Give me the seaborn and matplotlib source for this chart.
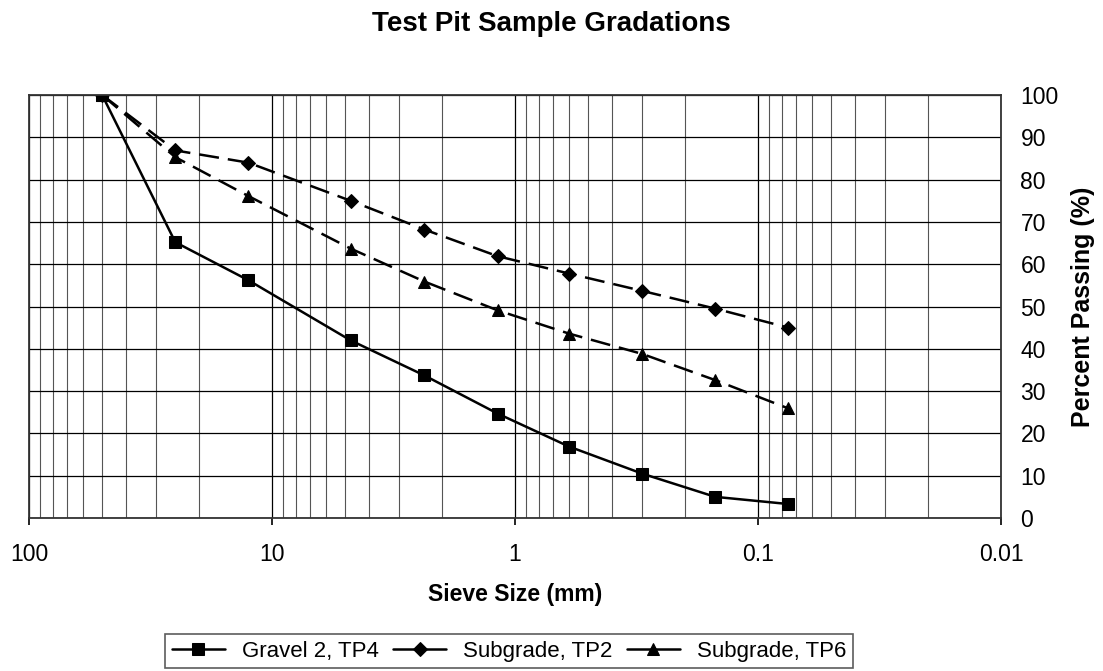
import numpy as np
import pandas as pd
import seaborn as sns
import matplotlib.pyplot as plt
from matplotlib.ticker import LogLocator, FixedLocator, NullFormatter

# sieve openings (mm) and percent passing for each test pit sample
sieve_mm = [50, 25, 12.5, 4.75, 2.36, 1.18, 0.6, 0.3, 0.15, 0.075]
gravel_tp4 = [100, 65.2, 56.2, 42.0, 33.7, 24.7, 16.9, 10.5, 5.0, 3.3]
subgrade_tp2 = [100, 86.9, 84.0, 75.0, 68.2, 61.9, 57.8, 53.7, 49.5, 45.0]
subgrade_tp6 = [100, 85.3, 76.1, 63.7, 55.9, 49.1, 43.6, 38.8, 32.6, 25.9]

series_names = ["Gravel 2, TP4", "Subgrade, TP2", "Subgrade, TP6"]
x_ticks = [100, 10, 1, 0.1, 0.01]
x_tick_labels = ["100", "10", "1", "0.1", "0.01"]

sns.set_theme(style="white")
plt.rcParams['font.family'] = ['Liberation Sans', 'DejaVu Sans']
plt.rcParams.update({"text.color": "black", "axes.labelcolor": "black",
                     "xtick.color": "black", "ytick.color": "black"})

fig = plt.figure(figsize=(11.03, 6.71), dpi=100)
ax = fig.add_axes([29 / 1103, 1 - 518 / 671, 972 / 1103, 423 / 671])

styles = [
    dict(marker="s", markersize=8, dashes=None),
    dict(marker="D", markersize=7.3, dashes=(8, 3.6)),
    dict(marker="^", markersize=8.5, dashes=(8, 3.6)),
]
for name, vals, st in zip(series_names, [gravel_tp4, subgrade_tp2, subgrade_tp6], styles):
    df = pd.DataFrame({"sieve": sieve_mm, "passing": vals})
    sns.lineplot(data=df, x="sieve", y="passing", ax=ax, color="black",
                 marker=st["marker"], markersize=st["markersize"],
                 markeredgecolor="black", linewidth=1.8, label=name,
                 sort=False, legend=False)
    if st["dashes"]:
        ax.lines[-1].set_dashes(st["dashes"])

ax.set_xscale("log")
ax.set_xlim(100, 0.01)
ax.set_ylim(0, 100)

ax.xaxis.set_major_locator(FixedLocator(x_ticks))
ax.set_xticklabels(x_tick_labels)
ax.xaxis.set_minor_locator(LogLocator(base=10, subs=np.arange(2, 10)))
ax.xaxis.set_minor_formatter(NullFormatter())
ax.set_yticks(np.arange(0, 101, 10))

ax.yaxis.tick_right()
ax.yaxis.set_label_position("right")
ax.tick_params(axis="both", labelsize=16.5)
ax.tick_params(axis="x", which="major", direction="out", length=5, width=1.2, bottom=True, pad=13)
ax.tick_params(axis="x", which="minor", length=0)
ax.tick_params(axis="y", which="major", right=True, length=0, pad=14)

ax.grid(True, which="major", axis="both", color="black", linewidth=0.9)
ax.grid(True, which="minor", axis="x", color="#555555", linewidth=0.8)
for side in ax.spines.values():
    side.set_color("#333333")
    side.set_linewidth(1.3)
    side.set_visible(True)

ax.set_xlabel("Sieve Size (mm)", fontsize=16.5, fontweight="bold", labelpad=12)
ax.set_ylabel("Percent Passing (%)", fontsize=18, fontweight="bold", labelpad=9)
fig.text(0.5, 1 - 24 / 671, "Test Pit Sample Gradations", ha="center", va="center",
         fontsize=20, fontweight="bold")

handles, labels = ax.get_legend_handles_labels()
leg = fig.legend(handles, labels, loc="center left", bbox_to_anchor=(165 / 1103, 1 - 651 / 671),
                 ncol=3, fontsize=16, frameon=True, fancybox=False, edgecolor="#333333",
                 handlelength=2.4, columnspacing=0.65, handletextpad=0.75, borderpad=0.3,
                 borderaxespad=0, markerscale=1)
leg.get_frame().set_linewidth(1.2)
for h in leg.legend_handles:
    h.set_linestyle("-")

fig.savefig("out.png", dpi=100)
